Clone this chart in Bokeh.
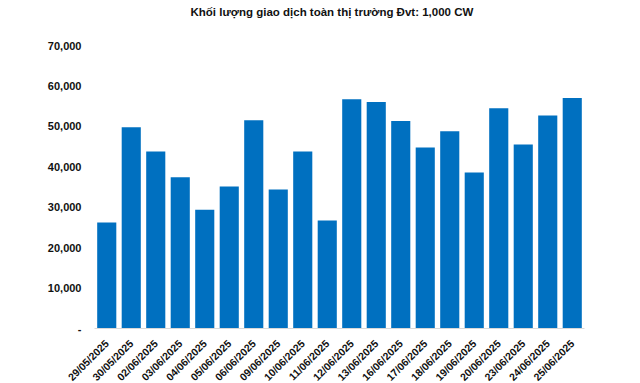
from bokeh.plotting import figure
from bokeh.models import FixedTicker, NumeralTickFormatter, Range1d, Title
from bokeh.embed import file_html
from bokeh.resources import INLINE

dates = ["29/05/2025", "30/05/2025", "02/06/2025", "03/06/2025", "04/06/2025",
         "05/06/2025", "06/06/2025", "09/06/2025", "10/06/2025", "11/06/2025",
         "12/06/2025", "13/06/2025", "16/06/2025", "17/06/2025", "18/06/2025",
         "19/06/2025", "20/06/2025", "23/06/2025", "24/06/2025", "25/06/2025"]
volumes = [26200, 49800, 43800, 37400, 29400,
           35100, 51500, 34400, 43800, 26700,
           56700, 56000, 51300, 44800, 48800,
           38600, 54500, 45500, 52700, 57000]
y_ticks = [0, 10000, 20000, 30000, 40000, 50000, 60000, 70000]
title_text = "Khối lượng giao dịch toàn thị trường Đvt: 1,000 CW"

FONT = "Liberation Sans"
TXT = "#111111"

p = figure(x_range=dates, frame_width=490, frame_height=283, output_backend="svg",
           toolbar_location=None, min_border_left=94, min_border_right=40,
           min_border_top=45, min_border_bottom=40)
p.y_range = Range1d(0, 70000)

spacer = Title(text=" ", text_font=FONT, text_font_size="11.5px", standoff=14)
p.add_layout(spacer, "above")

t = Title(text=title_text, text_font=FONT, text_font_size="11.5px",
          text_font_style="bold", text_color=TXT, align="left", offset=96,
          standoff=0)
p.add_layout(t, "above")

p.vbar(x=dates, top=volumes, width=0.78, color="#0070C0", line_color=None)

p.xgrid.grid_line_color = None
p.ygrid.grid_line_color = None
p.outline_line_color = None
p.background_fill_color = "white"
p.border_fill_color = "white"

p.yaxis.ticker = FixedTicker(ticks=y_ticks)
p.yaxis.formatter = NumeralTickFormatter(format="0,0")
p.yaxis.major_label_overrides = {0: "-"}
p.yaxis.axis_line_color = None
p.yaxis.major_tick_line_color = None
p.yaxis.major_tick_out = 0
p.yaxis.major_tick_in = 0
p.yaxis.minor_tick_line_color = None
p.yaxis.major_label_text_font = FONT
p.yaxis.major_label_text_font_size = "11px"
p.yaxis.major_label_text_font_style = "bold"
p.yaxis.major_label_text_color = TXT
p.yaxis.major_label_standoff = 13

p.xaxis.axis_line_color = "#d9d9d9"
p.xaxis.axis_line_width = 1
p.xaxis.major_tick_line_color = None
p.xaxis.minor_tick_line_color = None
p.xaxis.major_label_orientation = 0.785398
p.xaxis.major_label_text_font = FONT
p.xaxis.major_label_text_font_size = "10.5px"
p.xaxis.major_label_text_font_style = "bold"
p.xaxis.major_label_text_color = TXT
p.xaxis.major_label_standoff = 7

p.x_range.range_padding = 0.0

open("out.html", "w").write(file_html(p, INLINE))
